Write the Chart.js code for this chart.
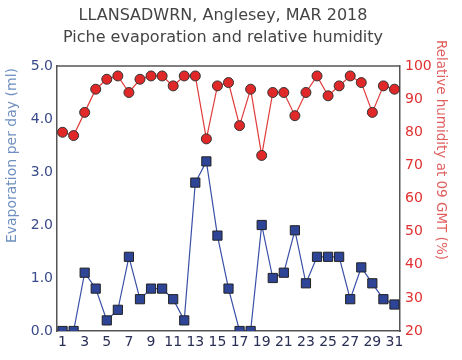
<!DOCTYPE html>
<html>
<head>
<meta charset="utf-8">
<script src="https://cdn.jsdelivr.net/npm/chart.js@4/dist/chart.umd.min.js"></script>
<style>
    html, body { margin: 0; padding: 0; background: #fff; }
    #wrap { width: 462px; height: 360px; }
</style>
</head>
<body>
<div id="wrap"><canvas id="evapChart" width="462" height="360"></canvas></div>
<script>
// Data
const days = [1,2,3,4,5,6,7,8,9,10,11,12,13,14,15,16,17,18,19,20,21,22,23,24,25,26,27,28,29,30,31];
const evaporation = [0.0,0.0,1.1,0.8,0.2,0.4,1.4,0.6,0.8,0.8,0.6,0.2,2.8,3.2,1.8,0.8,0.0,0.0,2.0,1.0,1.1,1.9,0.9,1.4,1.4,1.4,0.6,1.2,0.9,0.6,0.5];
const humidity = [80,79,86,93,96,97,92,96,97,97,94,97,97,78,94,95,82,93,73,92,92,85,92,97,91,94,97,95,86,94,93];
const xTicks = [1,3,5,7,9,11,13,15,17,19,21,23,25,27,29,31];
const leftTicks = [0,1,2,3,4,5];
const rightTicks = [20,30,40,50,60,70,80,90,100];
const titleLines = ['LLANSADWRN, Anglesey, MAR 2018', 'Piche evaporation and relative humidity'];

const FONT = 'DejaVu Sans, Verdana, sans-serif';

// Titles drawn by hand so they sit where the original puts them
const textLayer = {
    id: 'textLayer',
    afterDraw(chart) {
        const ctx = chart.ctx;
        const area = chart.chartArea;

        ctx.save();
        ctx.font = '16px ' + FONT;
        ctx.fillStyle = '#444';
        ctx.textAlign = 'center';
        ctx.textBaseline = 'middle';
        ctx.fillText(titleLines[0], 223, 16);
        ctx.fillText(titleLines[1], 223, 38);
        ctx.restore();

        ctx.save();
        ctx.font = '14px ' + FONT;
        ctx.textBaseline = 'middle';
        ctx.textAlign = 'right';
        ctx.fillStyle = '#6f8fbf';
        ctx.translate(12, area.top + 2);
        ctx.rotate(-Math.PI / 2);
        ctx.fillText('Evaporation per day (ml)', 0, 0);
        ctx.restore();

        ctx.save();
        ctx.font = '13.5px ' + FONT;
        ctx.textBaseline = 'middle';
        ctx.textAlign = 'left';
        ctx.fillStyle = '#e06060';
        ctx.translate(440, 40);
        ctx.rotate(Math.PI / 2);
        ctx.fillText('Relative humidity at 09 GMT (%)', 0, 0);
        ctx.restore();
    }
};

function setupChart() {
    const ctx = document.getElementById('evapChart').getContext('2d');
    new Chart(ctx, {
        type: 'line',
        data: {
            datasets: [{
                label: 'Relative humidity',
                data: days.map((d, i) => ({ x: d, y: humidity[i] })),
                yAxisID: 'yRight',
                borderColor: '#e03a3a',
                borderWidth: 1.2,
                pointStyle: 'circle',
                pointRadius: 5,
                pointBackgroundColor: '#e02828',
                pointBorderColor: '#333',
                pointBorderWidth: 1,
                tension: 0
            }, {
                label: 'Evaporation',
                data: days.map((d, i) => ({ x: d, y: evaporation[i] })),
                yAxisID: 'yLeft',
                borderColor: '#3a50a8',
                borderWidth: 1.2,
                pointStyle: 'rect',
                pointRadius: 6.5,
                pointBackgroundColor: '#2e4496',
                pointBorderColor: '#222',
                pointBorderWidth: 1,
                tension: 0
            }]
        },
        options: {
            responsive: false,
            animation: false,
            layout: { padding: { top: 66, left: 0, right: 0, bottom: 0 } },
            plugins: {
                legend: { display: false },
                tooltip: { enabled: false },
                title: { display: false }
            },
            scales: {
                x: {
                    type: 'linear',
                    min: 0.5,
                    max: 31.5,
                    afterBuildTicks: (axis) => { axis.ticks = xTicks.map(v => ({ value: v })); },
                    afterFit: (axis) => { axis.height = 29; },
                    grid: { display: false, drawTicks: false },
                    border: { color: '#555', width: 1.5 },
                    ticks: {
                        color: '#2a2f55',
                        font: { family: FONT, size: 14 },
                        padding: 3,
                        maxRotation: 0,
                        autoSkip: false
                    }
                },
                yLeft: {
                    type: 'linear',
                    position: 'left',
                    min: 0,
                    max: 5,
                    afterBuildTicks: (axis) => { axis.ticks = leftTicks.map(v => ({ value: v })); },
                    afterFit: (axis) => { axis.width = 57; },
                    grid: { display: false, drawTicks: false },
                    border: { color: '#555', width: 1.5 },
                    ticks: {
                        color: '#3a4a8a',
                        font: { family: FONT, size: 14 },
                        padding: 4,
                        callback: (v) => v.toFixed(1)
                    }
                },
                yRight: {
                    type: 'linear',
                    position: 'right',
                    min: 20,
                    max: 100,
                    afterBuildTicks: (axis) => { axis.ticks = rightTicks.map(v => ({ value: v })); },
                    afterFit: (axis) => { axis.width = 62; },
                    grid: { display: false, drawTicks: false },
                    border: { color: '#555', width: 1.5 },
                    ticks: {
                        color: '#e03030',
                        font: { family: FONT, size: 14 },
                        padding: 5
                    }
                }
            }
        },
        plugins: [textLayer, {
            id: 'topBorder',
            beforeDatasetsDraw(chart) {
                const a = chart.chartArea;
                const c = chart.ctx;
                c.save();
                c.strokeStyle = '#555';
                c.lineWidth = 1.5;
                c.beginPath();
                c.moveTo(a.left, a.top);
                c.lineTo(a.right, a.top);
                c.stroke();
                c.restore();
            }
        }]
    });
}

document.addEventListener('DOMContentLoaded', setupChart);
</script>
</body>
</html>
